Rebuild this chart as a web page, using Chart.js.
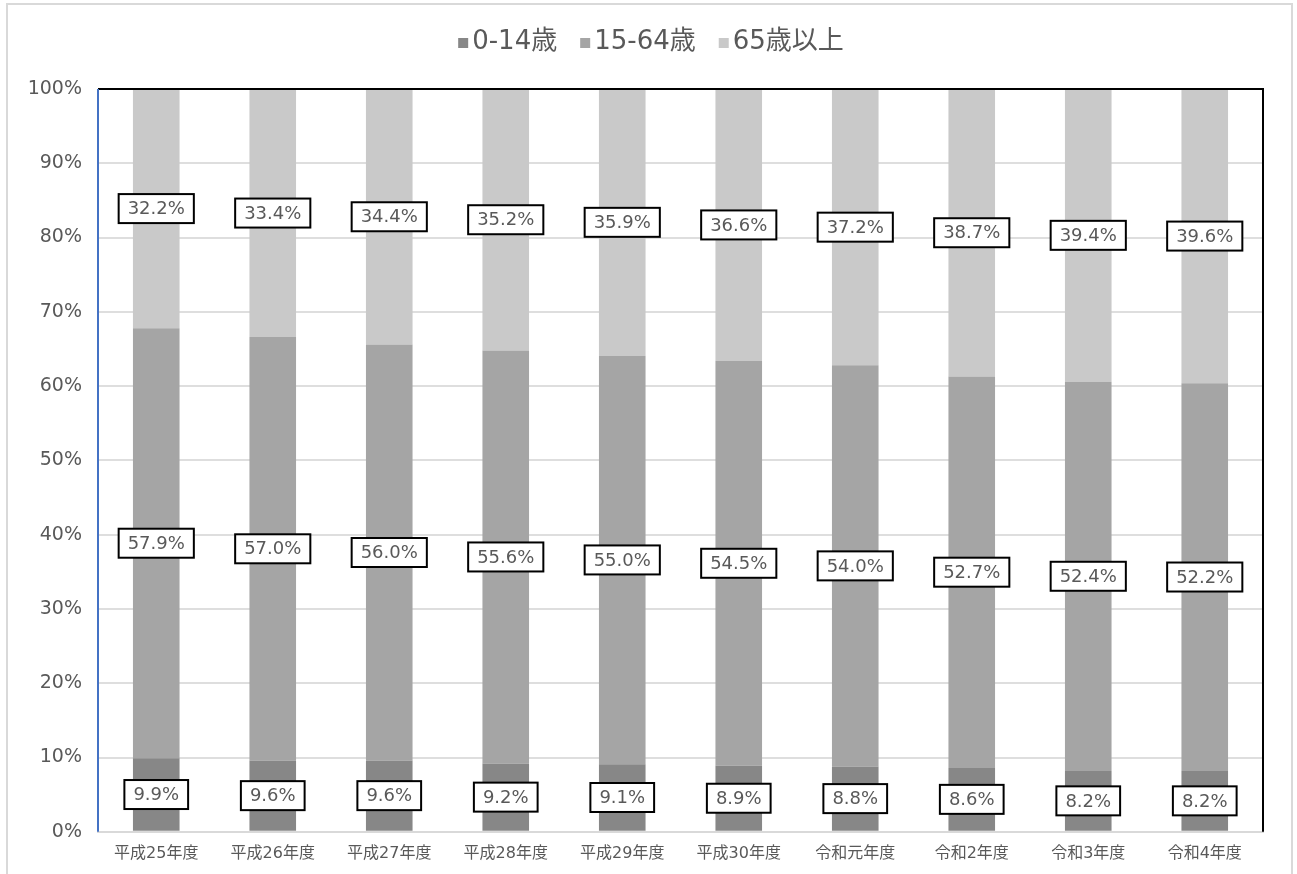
<!DOCTYPE html>
<html>
<head>
<meta charset="utf-8">
<script src="https://cdn.jsdelivr.net/npm/chart.js@4"></script>
<style>
  html, body { margin: 0; padding: 0; background: #ffffff; }
  #wrap { position: relative; width: 1297px; height: 874px; }
</style>
</head>
<body>
<div id="wrap"><canvas id="c" width="1297" height="874"></canvas></div>
<script>
// 年度
const categories = ['平成25年度', '平成26年度', '平成27年度', '平成28年度', '平成29年度',
                    '平成30年度', '令和元年度', '令和2年度', '令和3年度', '令和4年度'];
// 年齢3区分別人口構成比（%）
const age0to14  = [9.9, 9.6, 9.6, 9.2, 9.1, 8.9, 8.8, 8.6, 8.2, 8.2];
const age15to64 = [57.9, 57.0, 56.0, 55.6, 55.0, 54.5, 54.0, 52.7, 52.4, 52.2];
const age65plus = [32.2, 33.4, 34.4, 35.2, 35.9, 36.6, 37.2, 38.7, 39.4, 39.6];
const seriesNames = ['0-14歳', '15-64歳', '65歳以上'];
const seriesColors = ['#878787', '#a5a5a5', '#c9c9c9'];
const yTicks = [0, 10, 20, 30, 40, 50, 60, 70, 80, 90, 100];

const TEXT = '#595959';
const FONT = "'DejaVu Sans', 'Noto Sans CJK JP', sans-serif";

// Outer frame of the chart
const frame = {
  id: 'frame',
  beforeDraw(chart) {
    const ctx = chart.ctx;
    ctx.save();
    ctx.fillStyle = '#ffffff';
    ctx.fillRect(0, 0, chart.width, chart.height);
    ctx.strokeStyle = '#d9d9d9';
    ctx.lineWidth = 2;
    ctx.strokeRect(7, 4, 1285, 880);
    ctx.restore();
  }
};

// Legend row above the plot: small square swatch followed by the series name
const topLegend = {
  id: 'topLegend',
  afterDraw(chart) {
    const ctx = chart.ctx;
    ctx.save();
    ctx.font = '26px ' + FONT;
    ctx.textBaseline = 'middle';
    ctx.textAlign = 'left';
    const box = 10, gap = 4, spacing = 23, cy = 42;
    const widths = seriesNames.map(n => ctx.measureText(n).width);
    const total = widths.reduce((s, w) => s + box + gap + w, 0) + spacing * (seriesNames.length - 1);
    let x = 651 - total / 2;
    seriesNames.forEach((n, i) => {
      ctx.fillStyle = seriesColors[i];
      ctx.fillRect(x, cy - box / 2 + 1, box, box);
      x += box + gap;
      ctx.fillStyle = TEXT;
      ctx.fillText(n, x, cy);
      x += widths[i] + spacing;
    });
    ctx.restore();
  }
};

// Plot-area border: black top/right, blue left
const plotBorder = {
  id: 'plotBorder',
  afterDatasetsDraw(chart) {
    const a = chart.chartArea, ctx = chart.ctx;
    ctx.save();
    ctx.lineWidth = 2;
    ctx.strokeStyle = '#000000';
    ctx.beginPath();
    ctx.moveTo(a.left, a.top);
    ctx.lineTo(a.right, a.top);
    ctx.lineTo(a.right, a.bottom);
    ctx.stroke();
    ctx.strokeStyle = '#4472c4';
    ctx.beginPath();
    ctx.moveTo(a.left, a.top);
    ctx.lineTo(a.left, a.bottom);
    ctx.stroke();
    ctx.restore();
  }
};

// Boxed value labels in the middle of each segment
const boxLabels = {
  id: 'boxLabels',
  afterDraw(chart) {
    const ctx = chart.ctx;
    ctx.save();
    ctx.font = "18px 'DejaVu Sans', sans-serif";
    ctx.textAlign = 'center';
    ctx.textBaseline = 'middle';
    chart.data.datasets.forEach((ds, di) => {
      const meta = chart.getDatasetMeta(di);
      meta.data.forEach((bar, i) => {
        const text = ds.data[i].toFixed(1) + '%';
        const x = bar.x;
        const y = (bar.y + bar.base) / 2;
        const w = ctx.measureText(text).width + 18;
        const h = 29;
        ctx.fillStyle = '#ffffff';
        ctx.fillRect(x - w / 2, y - h / 2, w, h);
        ctx.strokeStyle = '#000000';
        ctx.lineWidth = 2;
        ctx.strokeRect(x - w / 2, y - h / 2, w, h);
        ctx.fillStyle = TEXT;
        ctx.fillText(text, x, y + 1);
      });
    });
    ctx.restore();
  }
};

new Chart(document.getElementById('c'), {
  type: 'bar',
  data: {
    labels: categories,
    datasets: [
      { label: seriesNames[0], data: age0to14,  backgroundColor: seriesColors[0] },
      { label: seriesNames[1], data: age15to64, backgroundColor: seriesColors[1] },
      { label: seriesNames[2], data: age65plus, backgroundColor: seriesColors[2] }
    ]
  },
  options: {
    responsive: false,
    animation: false,
    layout: { padding: { left: 10, right: 34, top: 89, bottom: 7 } },
    datasets: { bar: { categoryPercentage: 1.0, barPercentage: 0.4 } },
    plugins: {
      legend: { display: false },
      tooltip: { enabled: false }
    },
    scales: {
      x: {
        stacked: true,
        grid: { display: false },
        border: { display: true, color: '#d9d9d9', width: 2 },
        ticks: { color: TEXT, font: { size: 16, family: FONT }, padding: 4, maxRotation: 0 }
      },
      y: {
        stacked: true,
        min: 0, max: 100,
        afterBuildTicks(scale) { scale.ticks = yTicks.map(v => ({ value: v })); },
        afterFit(scale) { scale.width = 88; },
        grid: { color: '#dedede', lineWidth: 2, drawTicks: false },
        border: { display: false },
        ticks: {
          color: TEXT, padding: 16,
          font: { size: 19, family: FONT },
          callback: v => v + '%'
        }
      }
    }
  },
  plugins: [frame, plotBorder, boxLabels, topLegend]
});
</script>
</body>
</html>
